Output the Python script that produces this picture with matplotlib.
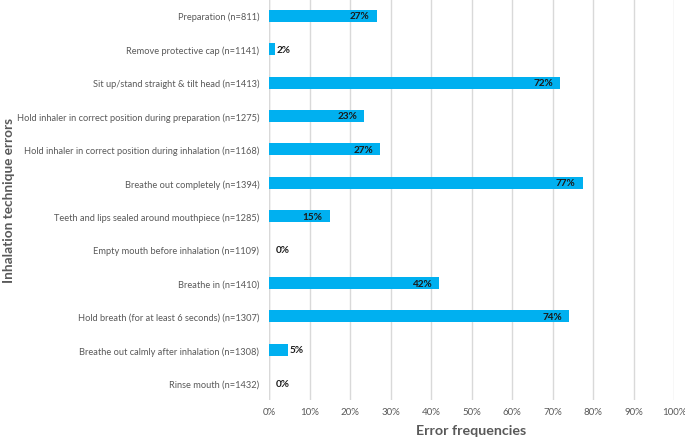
import matplotlib.pyplot as plt
import numpy as np

plt.rcParams['font.family'] = ['Lato', 'DejaVu Sans']

categories = [
    'Preparation (n=811)',
    'Remove protective cap (n=1141)',
    'Sit up/stand straight & tilt head (n=1413)',
    'Hold inhaler in correct position during preparation (n=1275)',
    'Hold inhaler in correct position during inhalation (n=1168)',
    'Breathe out completely (n=1394)',
    'Teeth and lips sealed around mouthpiece (n=1285)',
    'Empty mouth before inhalation (n=1109)',
    'Breathe in (n=1410)',
    'Hold breath (for at least 6 seconds) (n=1307)',
    'Breathe out calmly after inhalation (n=1308)',
    'Rinse mouth (n=1432)',
]
values = [26.6, 1.6, 71.8, 23.5, 27.4, 77.4, 15.0, 0.0, 42.0, 74.1, 4.8, 0.0]
labels = ['27%', '2%', '72%', '23%', '27%', '77%', '15%', '0%', '42%', '74%', '5%', '0%']
xticks = np.arange(0, 101, 10)

gray = '#595959'
blue = '#00B0F0'

fig = plt.figure(figsize=(6.85, 4.39), dpi=100)
ax = fig.add_axes([0.3927, 0.0866, 0.5913, 0.9134])

y = np.arange(len(categories))
ax.barh(y, values, height=0.36, color=blue, zorder=3)

for yi, v, lab in zip(y, values, labels):
    if v >= 5:
        ax.annotate(lab, (v, yi), xytext=(-5, 0), textcoords='offset points',
                    ha='right', va='center', fontsize=7.2, fontweight='bold',
                    color='#1a1a1a', zorder=4)
    else:
        ax.annotate(lab, (max(v, 1.6), yi), xytext=(0.5, 0), textcoords='offset points',
                    ha='left', va='center', fontsize=7.2, fontweight='bold',
                    color='#1a1a1a', zorder=4)

ax.set_ylim(len(categories) - 0.5, -0.5)
ax.set_xlim(0, 100)
ax.set_yticks(y)
ax.set_yticklabels(categories, fontsize=6.7, color=gray)
ax.set_xticks(xticks)
ax.set_xticklabels([f'{t}%' for t in xticks], fontsize=7, color=gray)
ax.tick_params(axis='both', length=0)
ax.tick_params(axis='y', pad=7)
ax.tick_params(axis='x', pad=5)

ax.grid(axis='x', color='#d9d9d9', linewidth=1, zorder=0)
for s in ax.spines.values():
    s.set_visible(False)
ax.axvline(0, color='#d9d9d9', linewidth=1, zorder=1)

fig.text(0.013, 0.544, 'Inhalation technique errors', rotation=90, ha='center', va='center',
         fontsize=9.8, fontweight='bold', color=gray)
fig.text(0.688, 0.018, 'Error frequencies', ha='center', va='center',
         fontsize=10.3, fontweight='bold', color=gray)

fig.savefig('out.png', dpi=100)
